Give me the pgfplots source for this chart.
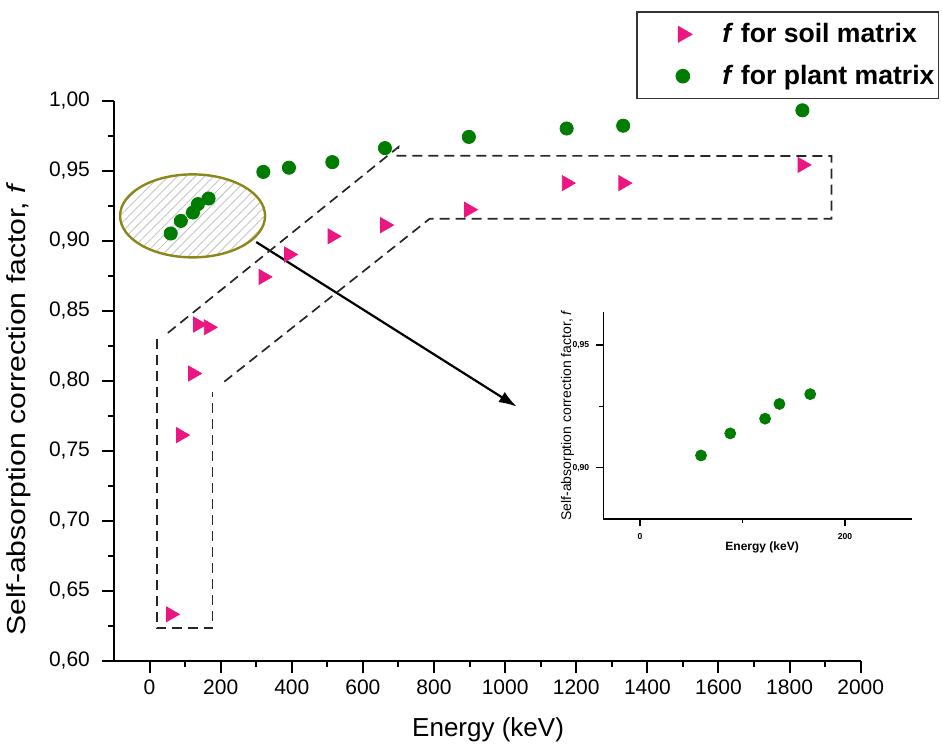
\documentclass[border=0pt]{standalone}
\usepackage{fontspec}
\setmainfont{Liberation Sans}
\setsansfont{Liberation Sans}
\usepackage{pgfplots}
\pgfplotsset{compat=1.18}
\usetikzlibrary{patterns.meta,arrows.meta}
\definecolor{soil}{RGB}{236,22,130}
\definecolor{plant}{RGB}{0,125,0}
\definecolor{olivec}{RGB}{140,135,25}

\pgfplotstableread{
E f
59.5 0.633
88 0.761
122 0.805
136 0.840
166 0.838
320 0.874
392 0.890
514 0.903
662 0.911
898 0.922
1173 0.941
1332 0.941
1836 0.954
}\soil

\pgfplotstableread{
E f
59.5 0.905
88 0.914
122 0.920
136 0.926
166 0.930
320 0.949
392 0.952
514 0.956
662 0.966
898 0.974
1173 0.980
1332 0.982
1836 0.993
}\plant

\pgfplotstableread{
E f
59.5 0.905
88 0.914
122 0.920
136 0.926
166 0.930
}\plantlow

\begin{document}
\begin{tikzpicture}
\useasboundingbox (0pt,0pt) rectangle (471pt,-376pt);

\begin{axis}[
  at={(57pt,-330.25pt)}, anchor=south west,
  width=373.35pt, height=280pt, scale only axis,
  xmin=-100, xmax=2000, ymin=0.60, ymax=1.00,
  axis lines=left, axis line style={-, line width=1pt},
  xtick={0,200,400,600,800,1000,1200,1400,1600,1800,2000}, minor x tick num=1,
  ytick={0.60,0.65,0.70,0.75,0.80,0.85,0.90,0.95,1.00}, minor y tick num=1,
  tick align=outside, major tick length=6pt, minor tick length=3pt,
  every tick/.style={black, line width=1pt},
  tick label style={font=\fontsize{10.5}{12}\selectfont},
  /pgf/number format/assume math mode=true,
  yticklabel style={xshift=-2.5pt, /pgf/number format/.cd, fixed, fixed zerofill, precision=2, use comma},
  xticklabel style={/pgf/number format/.cd, fixed, 1000 sep={}},
  xlabel={Energy (keV)},
  xlabel style={font=\fontsize{13}{15}\selectfont, at={(axis description cs:0.501,-0.124)}, anchor=center},
  ylabel={\scalebox{1.16}[1]{Self-absorption correction factor, \textit{f}}},
  ylabel style={font=\fontsize{13}{15}\selectfont, at={(axis description cs:-0.128,0.449)}, anchor=center},
  legend style={at={(axis description cs:1.1052,1.159)}, anchor=north east, draw=black!80, line width=0.7pt,
    font=\fontsize{13.3}{15}\selectfont\bfseries, inner xsep=0pt, inner ysep=3.5pt, row sep=5.8pt,
    /tikz/every odd column/.append style={column sep=13.5pt}},
  legend image code/.code={\path[draw=none,fill=none] (-23pt,0pt) -- (4pt,0pt); \draw[#1,draw=none] plot coordinates {(0pt,0pt)};},
  legend cell align=left,
]
\addplot[only marks, mark=triangle*, mark size=4.3pt, color=soil, mark options={rotate=-90, fill=soil, draw=soil}] table[x=E,y=f] {\soil};
\addlegendentry{\textit{f} for soil matrix}
\addplot[only marks, mark=*, mark size=3.3pt, color=plant, mark options={fill=plant, draw=plant}] table[x=E,y=f] {\plant};
\addlegendentry{\textit{f} for plant matrix}

\draw[olivec, line width=1.2pt, pattern={Lines[angle=45,distance=3.2pt,line width=0.45pt]}, pattern color=gray!45]
  (axis cs:121,0.9176) ellipse [x radius=36.25pt, y radius=20.75pt];
\draw[-{Latex[length=9pt,width=6pt]}, line width=1.1pt] (axis cs:300,0.8989) -- (axis cs:1033,0.7813);
\draw[black!85, line width=0.85pt, dash pattern=on 5pt off 3pt]
  (axis cs:51.5,0.834) -- (axis cs:700,0.9668) -- (axis cs:697,0.9605) -- (axis cs:1918,0.9604)
  -- (axis cs:1918,0.9156) -- (axis cs:788,0.9156) -- (axis cs:206,0.7983);
\draw[black!85, line width=0.85pt, dash pattern=on 5pt off 3pt]
  (axis cs:20.5,0.8293) -- (axis cs:20.5,0.623) -- (axis cs:177,0.623) -- (axis cs:177,0.7921);
\end{axis}

\begin{axis}[
  at={(301.65pt,-259.5pt)}, anchor=south west,
  width=154.2pt, height=103.65pt, scale only axis,
  xmin=-35.8, xmax=265, ymin=0.8791, ymax=0.9636,
  axis lines=left, axis line style={-, line width=0.8pt},
  xtick={0,200}, minor xtick={100}, ytick={0.90,0.95}, minor ytick={0.925},
  tick align=outside, major tick length=3.5pt, minor tick length=2pt,
  every tick/.style={black, line width=0.6pt},
  tick label style={font=\fontsize{4.3}{5}\selectfont\bfseries},
  /pgf/number format/assume math mode=true,
  yticklabel style={/pgf/number format/.cd, fixed, fixed zerofill, precision=2, use comma},
  xlabel={Energy (keV)},
  xlabel style={font=\fontsize{6}{7}\selectfont\bfseries, at={(axis description cs:0.515,-0.135)}, anchor=center},
  ylabel={Self-absorption correction factor, \textit{f}},
  ylabel style={font=\fontsize{7}{8}\selectfont, at={(axis description cs:-0.116,0.50)}, anchor=center},
]
\addplot[only marks, mark=*, mark size=2.75pt, color=plant, mark options={fill=plant, draw=plant}] table[x=E,y=f] {\plantlow};
\end{axis}
\end{tikzpicture}
\end{document}
